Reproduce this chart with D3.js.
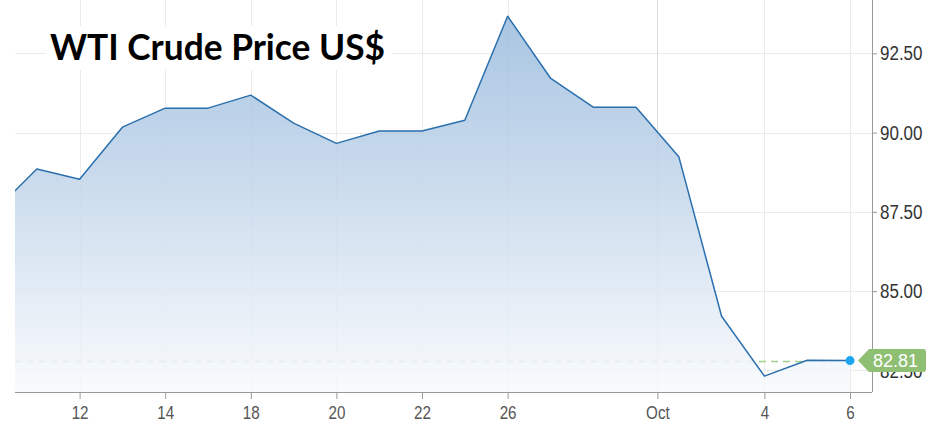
<!DOCTYPE html>
<html>
<head>
<meta charset="utf-8">
<script src="https://cdn.jsdelivr.net/npm/d3@7"></script>
<style>
  html, body { margin: 0; padding: 0; background: #fff; }
  svg { display: block; }
</style>
</head>
<body>
<svg id="chart" width="932" height="437"></svg>
<script>
// ---- data ----
const dates = ["Sep 8", "Sep 11", "Sep 12", "Sep 13", "Sep 14", "Sep 15", "Sep 18", "Sep 19",
  "Sep 20", "Sep 21", "Sep 22", "Sep 25", "Sep 26", "Sep 27", "Sep 28", "Sep 29",
  "Oct 2", "Oct 3", "Oct 4", "Oct 5", "Oct 6"];
const prices = [87.51, 88.85, 88.53, 90.17, 90.77, 90.77, 91.18, 90.30,
  89.66, 90.05, 90.05, 90.39, 93.67, 91.72, 90.80, 90.80,
  89.24, 84.21, 82.32, 82.82, 82.81];
const xTickLabels = ["12", "14", "18", "20", "22", "26", "Oct", "4", "6"];
const xTickIndex = [2, 4, 6, 8, 10, 12, 15.5, 18, 20];
const yTicks = [82.5, 85, 87.5, 90, 92.5];
const title = "WTI Crude Price US$";
const lastLabel = "82.81";

// ---- layout ----
const W = 932, H = 437;
const plotL = 15, plotR = 872, plotT = 0, plotB = 392;

const svg = d3.select("#chart");

const x = d3.scaleLinear().domain([0, dates.length - 1]).range([-6, 850]);
const y = d3.scaleLinear().domain([81.82, 94.18]).range([plotB, plotT]);

const defs = svg.append("defs");
defs.append("clipPath").attr("id", "clip")
  .append("rect").attr("x", plotL).attr("y", plotT)
  .attr("width", plotR - plotL).attr("height", plotB - plotT);

const grad = defs.append("linearGradient").attr("id", "areaGrad")
  .attr("gradientUnits", "userSpaceOnUse")
  .attr("x1", 0).attr("x2", 0).attr("y1", y(d3.max(prices))).attr("y2", plotB);
grad.append("stop").attr("offset", "0%").attr("stop-color", "#9bbcde");
grad.append("stop").attr("offset", "45%").attr("stop-color", "#c3d6ea");
grad.append("stop").attr("offset", "100%").attr("stop-color", "#f8fafd");

// horizontal gridlines
svg.append("g").selectAll("line").data(yTicks).join("line")
  .attr("x1", plotL).attr("x2", plotR)
  .attr("y1", d => Math.round(y(d)) + 0.5).attr("y2", d => Math.round(y(d)) + 0.5)
  .attr("stroke", "#ebebeb").attr("stroke-width", 1);

// vertical gridlines
svg.append("g").selectAll("line").data(xTickIndex).join("line")
  .attr("x1", d => Math.round(x(d)) + 0.5).attr("x2", d => Math.round(x(d)) + 0.5)
  .attr("y1", plotT).attr("y2", plotB)
  .attr("stroke", (d, i) => xTickLabels[i] === "Oct" ? "#dcdcdc" : "#ebebeb")
  .attr("stroke-width", 1);

// dashed last-value line
const lastVal = prices[prices.length - 1];
svg.append("line")
  .attr("x1", plotL).attr("x2", x(prices.length - 1))
  .attr("y1", Math.round(y(lastVal)) + 0.5).attr("y2", Math.round(y(lastVal)) + 0.5)
  .attr("stroke", "#a3cf8c").attr("stroke-width", 1.3)
  .attr("stroke-dasharray", "7,5");

const g = svg.append("g").attr("clip-path", "url(#clip)");

const area = d3.area()
  .x((d, i) => x(i)).y0(plotB).y1(d => y(d));
g.append("path").datum(prices)
  .attr("d", area)
  .attr("fill", "url(#areaGrad)")
  .attr("fill-opacity", 0.86);

const line = d3.line().x((d, i) => x(i)).y(d => y(d));
g.append("path").datum(prices)
  .attr("d", line)
  .attr("fill", "none")
  .attr("stroke", "#2a6fad")
  .attr("stroke-width", 1.5)
  .attr("stroke-linejoin", "round");

// bottom axis
const xAxis = d3.axisBottom(x)
  .tickValues(xTickIndex)
  .tickFormat((d, i) => xTickLabels[i])
  .tickSize(7).tickSizeOuter(0);
const xa = svg.append("g").attr("transform", `translate(0,${plotB})`).call(xAxis);
xa.select(".domain").attr("d", `M${plotL},0.5H${plotR}`).attr("stroke", "#9a9a9a");
xa.selectAll(".tick line").attr("stroke", "#9a9a9a");
xa.selectAll(".tick text")
  .attr("fill", "#555").attr("font-size", "16px")
  .attr("font-family", "'Liberation Sans', Arial, sans-serif")
  .attr("dy", "0.71em").attr("y", 11)
  .attr("transform", "scale(0.95,1.2)")
  .attr("x", 0);

// right axis
const yAxis = d3.axisRight(y)
  .tickValues(yTicks)
  .tickFormat(d3.format(".2f"))
  .tickSize(5).tickSizeOuter(0);
const ya = svg.append("g").attr("transform", `translate(${plotR},0)`).call(yAxis);
ya.select(".domain").attr("d", `M0.5,${plotT}V${plotB}`).attr("stroke", "#9a9a9a");
ya.selectAll(".tick line").attr("stroke", "#9a9a9a");
ya.selectAll(".tick text")
  .attr("fill", "#333").attr("font-size", "17px")
  .attr("font-family", "'Liberation Sans', Arial, sans-serif")
  .attr("x", 8).attr("dy", "0.34em")
  .attr("transform", "scale(1,1.15)");

// end marker
const ex = x(prices.length - 1), ey = y(lastVal);
svg.append("circle").attr("cx", ex).attr("cy", ey).attr("r", 4.5)
  .attr("fill", "#1fa6f0");

// value flag
const fx = ex + 8, fh = 23, fw = 68;
const flag = d3.path();
flag.moveTo(fx, ey);
flag.lineTo(fx + 11, ey - fh / 2);
flag.lineTo(fx + fw - 3, ey - fh / 2);
flag.quadraticCurveTo(fx + fw, ey - fh / 2, fx + fw, ey - fh / 2 + 3);
flag.lineTo(fx + fw, ey + fh / 2 - 3);
flag.quadraticCurveTo(fx + fw, ey + fh / 2, fx + fw - 3, ey + fh / 2);
flag.lineTo(fx + 11, ey + fh / 2);
flag.closePath();
svg.append("path").attr("d", flag.toString()).attr("fill", "#8fbf72");
svg.append("text").attr("x", fx + 15).attr("y", ey).attr("dy", "0.36em")
  .attr("fill", "#fff").attr("font-size", "18px")
  .attr("font-family", "'Liberation Sans', Arial, sans-serif")
  .text(lastLabel);

// title with white backing
svg.append("rect").attr("x", 46).attr("y", 26).attr("width", 346).attr("height", 44)
  .attr("fill", "#fff");
svg.append("text").attr("x", 50).attr("y", 60)
  .attr("font-family", "Lato, 'Open Sans', sans-serif")
  .attr("font-weight", 700).attr("font-size", "37px").attr("fill", "#000")
  .attr("textLength", 335).attr("lengthAdjust", "spacingAndGlyphs")
  .text(title);
</script>
</body>
</html>
